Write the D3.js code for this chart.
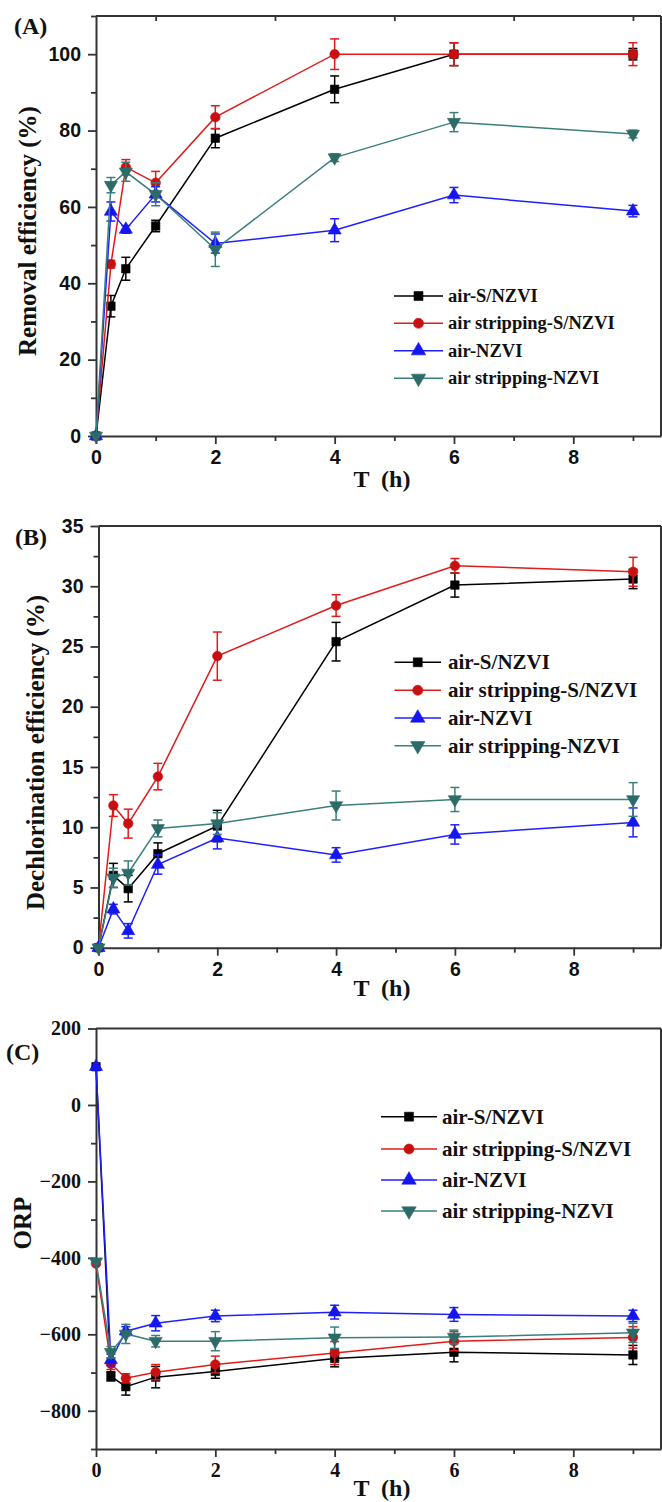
<!DOCTYPE html>
<html>
<head>
<meta charset="utf-8">
<script src="https://cdn.jsdelivr.net/npm/d3@7"></script>
<style>
  body { margin: 0; background: #fff; }
  svg { display: block; }
</style>
</head>
<body>
<div id="app"></div>
<script>

var hours = [0, 0.25, 0.5, 1, 2, 4, 6, 9];
var seriesNames = ["air-S/NZVI", "air stripping-S/NZVI", "air-NZVI", "air stripping-NZVI"];

// (A) removal efficiency (%)
var removalAirS = [0, 34, 43.8, 55, 78, 90.8, 100, 100];
var removalAirSErr = [0, 2.8, 3, 1.5, 2.5, 3.5, 3, 1.5];
var removalStripS = [0, 45, 70.4, 66.3, 83.5, 100, 100, 100];
var removalStripSErr = [0, 1, 2, 3, 3, 4, 3, 3];
var removalAirN = [0, 58.8, 54.1, 63.3, 50.4, 53.9, 63.1, 58.9];
var removalAirNErr = [0, 2.5, 1, 2, 2.5, 3, 2, 1.5];
var removalStripN = [0, 65.7, 69.2, 63.3, 48.9, 72.9, 82.2, 79.1];
var removalStripNErr = [0, 2, 2.5, 3, 4.5, 1, 2.5, 1];

// (B) dechlorination efficiency (%)
var dechlAirS = [0, 6.0, 4.9, 7.8, 10.1, 25.4, 30.1, 30.6];
var dechlAirSErr = [0, 1.0, 1.1, 0.9, 1.3, 1.6, 1.0, 0.8];
var dechlStripS = [0, 11.8, 10.3, 14.2, 24.2, 28.4, 31.7, 31.2];
var dechlStripSErr = [0, 0.9, 1.2, 1.1, 2.0, 0.9, 0.6, 1.2];
var dechlAirN = [0, 3.2, 1.4, 6.9, 9.1, 7.7, 9.4, 10.4];
var dechlAirNErr = [0, 0.4, 0.6, 0.8, 0.9, 0.6, 0.8, 1.2];
var dechlStripN = [0, 5.8, 6.2, 9.9, 10.3, 11.8, 12.3, 12.3];
var dechlStripNErr = [0, 0.8, 1.0, 0.7, 0.9, 1.2, 1.0, 1.4];

// (C) ORP
var orpAirS = [100, -710, -737, -712, -697, -663, -647, -654];
var orpAirSErr = [0, 12, 22, 28, 18, 22, 25, 25];
var orpStripS = [-415, -677, -715, -699, -679, -649, -618, -608];
var orpStripSErr = [0, 15, 12, 20, 22, 30, 25, 28];
var orpAirN = [100, -667, -592, -571, -552, -542, -548, -552];
var orpAirNErr = [0, 15, 12, 20, 15, 18, 18, 15];
var orpStripN = [-410, -647, -599, -618, -618, -609, -607, -596];
var orpStripNErr = [0, 15, 25, 15, 25, 28, 18, 25];

var xMajorTicks = [0, 2, 4, 6, 8];
var xMinorTicks = [1, 3, 5, 7, 9];

var colors = ["#000000", "#e01b1b", "#1f1fff", "#3a7f7b"];
var markColors = ["#000000", "#c81010", "#1515f0", "#2c6b67"];
var symbols = [d3.symbolSquare, d3.symbolCircle, d3.symbolTriangle, d3.symbolTriangle];

var SANS = "'Liberation Sans', Arial, sans-serif";
var SERIF = "'Liberation Serif', 'Times New Roman', serif";
var AXIS = "#333";

var svg = d3.select("#app")
    .append("svg")
    .attr("width", 662)
    .attr("height", 1502);

function translate(x, y) {
    return "translate(" + x + "," + y + ")";
}

function marker(g, i, x, y, size) {
    g.append("path")
	.attr("d", d3.symbol().type(symbols[i]).size(size)())
	.attr("transform", translate(x, y) + (i === 3 ? " rotate(180)" : ""))
	.style("fill", markColors[i])
	.style("stroke", markColors[i])
	.style("stroke-width", 0.6);
}

function drawPanel(p) {
    var x = d3.scaleLinear().domain([0, 9.47]).range([p.left, 661]);
    var y = d3.scaleLinear().domain(p.yDomain).range([p.bottom, p.top]);
    var g = svg.append("g");
    var tickFont = p.tickFont;

    // minor ticks
    g.append("g")
	.attr("transform", translate(0, p.bottom))
	.call(d3.axisBottom(x).tickValues(xMinorTicks).tickSize(5).tickFormat(""))
	.call(function (s) { s.select(".domain").remove(); });
    g.append("g")
	.attr("transform", translate(p.left, 0))
	.call(d3.axisLeft(y).tickValues(p.yMinor).tickSize(5).tickFormat(""))
	.call(function (s) { s.select(".domain").remove(); });
    if (p.topTicks) {
	g.append("g")
	    .attr("transform", translate(0, p.top))
	    .call(d3.axisTop(x).tickValues(xMinorTicks).tickSize(-5).tickFormat(""))
	    .call(function (s) { s.select(".domain").remove(); });
    }

    var xAxis = g.append("g")
	.attr("transform", translate(0, p.bottom))
	.call(d3.axisBottom(x).tickValues(xMajorTicks).tickSize(8).tickPadding(6).tickSizeOuter(0));
    var yAxis = g.append("g")
	.attr("transform", translate(p.left, 0))
	.call(d3.axisLeft(y).tickValues(p.yTicks).tickSize(8).tickPadding(7).tickSizeOuter(0));

    [xAxis, yAxis].forEach(function (a) {
	a.selectAll("text")
	    .style("font-family", tickFont)
	    .style("font-weight", "bold")
	    .style("font-size", p.tickSize + "px")
	    .style("fill", "#111");
    });

    g.selectAll(".tick line").style("stroke", AXIS).style("stroke-width", 1.8);
    g.selectAll(".domain").style("stroke", AXIS).style("stroke-width", 2);

    // frame top and right
    g.append("line")
	.attr("x1", p.left).attr("x2", 661)
	.attr("y1", p.top).attr("y2", p.top)
	.style("stroke", AXIS).style("stroke-width", 2);
    g.append("line")
	.attr("x1", 661).attr("x2", 661)
	.attr("y1", p.top).attr("y2", p.bottom)
	.style("stroke", AXIS).style("stroke-width", 2);

    var line = d3.line()
	.x(function (d) { return x(d.t); })
	.y(function (d) { return y(d.v); });

    p.series.forEach(function (vals, i) {
	var errs = p.errors[i];
	var pts = hours.map(function (t, k) { return { t: t, v: vals[k], e: errs[k] }; });
	var sg = g.append("g");

	var eb = sg.selectAll(".err")
	    .data(pts.filter(function (d) { return d.e > 0; }))
	    .enter()
	    .append("g")
	    .style("stroke", colors[i])
	    .style("stroke-width", 1.5);
	eb.append("line")
	    .attr("x1", function (d) { return x(d.t); })
	    .attr("x2", function (d) { return x(d.t); })
	    .attr("y1", function (d) { return y(d.v - d.e); })
	    .attr("y2", function (d) { return y(d.v + d.e); });
	[-1, 1].forEach(function (sgn) {
	    eb.append("line")
		.attr("x1", function (d) { return x(d.t) - 4.5; })
		.attr("x2", function (d) { return x(d.t) + 4.5; })
		.attr("y1", function (d) { return y(d.v + sgn * d.e); })
		.attr("y2", function (d) { return y(d.v + sgn * d.e); });
	});

	sg.append("path")
	    .datum(pts)
	    .attr("d", line)
	    .style("fill", "none")
	    .style("stroke", colors[i])
	    .style("stroke-width", 1.5);

	pts.forEach(function (d) {
	    marker(sg, i, x(d.t), y(d.v), i >= 2 ? 75 : 72);
	});
    });

    // legend
    var lg = g.append("g");
    seriesNames.forEach(function (name, i) {
	var ly = p.legend.rows[i];
	lg.append("line")
	    .attr("x1", p.legend.x0).attr("x2", p.legend.x1)
	    .attr("y1", ly).attr("y2", ly)
	    .style("stroke", colors[i])
	    .style("stroke-width", 1.5);
	marker(lg, i, (p.legend.x0 + p.legend.x1) / 2, ly, i >= 2 ? 90 : 80);
	lg.append("text")
	    .attr("x", p.legend.tx)
	    .attr("y", ly)
	    .attr("dy", "0.33em")
	    .style("font-family", SERIF)
	    .style("font-weight", "bold")
	    .style("font-size", p.legend.size + "px")
	    .style("fill", "#111")
	    .text(name);
    });

    // labels
    g.append("text")
	.attr("x", p.panelLabel.x)
	.attr("y", p.panelLabel.y)
	.style("font-family", SERIF)
	.style("font-weight", "bold")
	.style("font-size", "24px")
	.style("fill", "#111")
	.text(p.panelLabel.text);

    g.append("text")
	.attr("transform", translate(p.yLabel.x, p.yLabel.y) + " rotate(-90)")
	.attr("text-anchor", "middle")
	.attr("dy", "0.35em")
	.style("font-family", SERIF)
	.style("font-weight", "bold")
	.style("font-size", "25px")
	.style("fill", "#111")
	.text(p.yLabel.text);

    g.append("text")
	.attr("x", 382)
	.attr("y", p.xLabelY)
	.attr("text-anchor", "middle")
	.attr("xml:space", "preserve")
	.style("font-family", SERIF)
	.style("font-weight", "bold")
	.style("font-size", "24px")
	.style("fill", "#111")
	.text("T  (h)");
}

drawPanel({
    left: 96, top: 16, bottom: 436,
    yDomain: [0, 110],
    yTicks: [0, 20, 40, 60, 80, 100],
    yMinor: [10, 30, 50, 70, 90, 110],
    tickFont: SANS, tickSize: 19.5,
    topTicks: true,
    series: [removalAirS, removalStripS, removalAirN, removalStripN],
    errors: [removalAirSErr, removalStripSErr, removalAirNErr, removalStripNErr],
    legend: { x0: 394, x1: 443, tx: 448, rows: [296, 323.3, 350.7, 378.3], size: 18.5 },
    panelLabel: { x: 14, y: 34, text: "(A)" },
    yLabel: { x: 27, y: 231, text: "Removal efficiency (%)" },
    xLabelY: 487
});

drawPanel({
    left: 98.5, top: 526, bottom: 947.7,
    yDomain: [0, 35],
    yTicks: [0, 5, 10, 15, 20, 25, 30, 35],
    yMinor: [2.5, 7.5, 12.5, 17.5, 22.5, 27.5, 32.5],
    tickFont: SANS, tickSize: 19.5,
    topTicks: false,
    series: [dechlAirS, dechlStripS, dechlAirN, dechlStripN],
    errors: [dechlAirSErr, dechlStripSErr, dechlAirNErr, dechlStripNErr],
    legend: { x0: 394.5, x1: 441, tx: 448, rows: [662.3, 690.3, 718, 745.7], size: 21 },
    panelLabel: { x: 15, y: 545, text: "(B)" },
    yLabel: { x: 35, y: 752.5, text: "Dechlorination efficiency (%)" },
    xLabelY: 996
});

drawPanel({
    left: 96, top: 1028.5, bottom: 1449,
    yDomain: [-900, 200],
    yTicks: [-800, -600, -400, -200, 0, 200],
    yMinor: [-900, -700, -500, -300, -100, 100],
    tickFont: SERIF, tickSize: 20,
    topTicks: false,
    series: [orpAirS, orpStripS, orpAirN, orpStripN],
    errors: [orpAirSErr, orpStripSErr, orpAirNErr, orpStripNErr],
    legend: { x0: 381, x1: 437, tx: 442, rows: [1116.7, 1149, 1180, 1211], size: 21 },
    panelLabel: { x: 6, y: 1060, text: "(C)" },
    yLabel: { x: 22, y: 1223, text: "ORP" },
    xLabelY: 1496
});

</script>
</body>
</html>
